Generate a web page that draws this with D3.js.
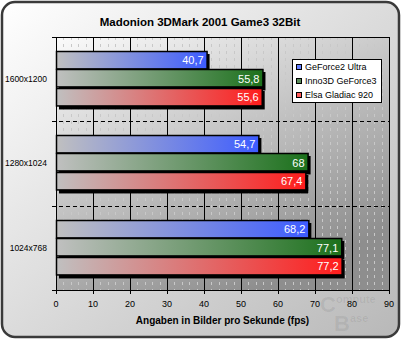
<!DOCTYPE html>
<html>
<head>
<meta charset="utf-8">
<script src="https://cdn.jsdelivr.net/npm/d3@7"></script>
<style>
    body { margin: 0; background: #fff; }
    text { font-family: "Liberation Sans", Arial, sans-serif; }
</style>
</head>
<body>
<script>

    var categories = ["1600x1200", "1280x1024", "1024x768"];
    var series = ["GeForce2 Ultra", "Inno3D GeForce3", "Elsa Gladiac 920"];
    var values = [
        [40.7, 55.8, 55.6],
        [54.7, 68, 67.4],
        [68.2, 77.1, 77.2]
    ];
    var colors = ["#3d5cff", "#1b711b", "#ff1c1c"];
    var lightColors = ["#6680ff", "#5a8c5a", "#ff5a5a"];
    var ticks = [0, 10, 20, 30, 40, 50, 60, 70, 80, 90];

    var width = 401, height = 339;
    var plotLeft = 56, plotRight = 389, plotTop = 37, plotBottom = 290;

    var svg = d3.select("body").append("svg")
        .attr("width", width)
        .attr("height", height);

    var defs = svg.append("defs");

    var panelGrad = defs.append("linearGradient").attr("id", "panel")
        .attr("x1", 0).attr("y1", 0).attr("x2", 1).attr("y2", 1);
    panelGrad.append("stop").attr("offset", "0%").attr("stop-color", "#ffffff");
    panelGrad.append("stop").attr("offset", "100%").attr("stop-color", "#b8b8b8");

    var plotGrad = defs.append("linearGradient").attr("id", "plotbg")
        .attr("x1", 0).attr("y1", 0).attr("x2", 0.6).attr("y2", 1);
    plotGrad.append("stop").attr("offset", "0%").attr("stop-color", "#fbfbfb");
    plotGrad.append("stop").attr("offset", "100%").attr("stop-color", "#8e8e8e");

    var x = d3.scaleLinear().domain([0, 90]).range([plotLeft, plotRight]);
    var y0 = d3.scaleBand().domain(categories).range([plotTop, plotBottom]).paddingInner(0).paddingOuter(0);
    var y1 = d3.scaleBand().domain(d3.range(series.length)).range([14, y0.bandwidth() - 15]);

    // bar gradients, one per series, stretched across each bar
    series.forEach(function (s, i) {
        var g = defs.append("linearGradient").attr("id", "bar" + i)
            .attr("x1", 0).attr("y1", 0).attr("x2", 1).attr("y2", 0);
        g.append("stop").attr("offset", "0%").attr("stop-color", "#c0c0c0");
        g.append("stop").attr("offset", "100%").attr("stop-color", colors[i]);
    });

    // outer panel
    svg.append("rect")
        .attr("x", 2).attr("y", 2)
        .attr("width", width - 4).attr("height", height - 4)
        .attr("rx", 13).attr("ry", 13)
        .attr("fill", "url(#panel)")
        .attr("stroke", "#3a3a3a")
        .attr("stroke-width", 2.5);

    svg.append("text")
        .attr("x", 200).attr("y", 26)
        .attr("text-anchor", "middle")
        .style("font-size", "11.5px")
        .style("font-weight", "bold")
        .text("Madonion 3DMark 2001 Game3 32Bit");

    // faint watermark, bottom right
    var wm = svg.append("g").attr("fill", "rgba(0,0,0,0.07)").style("font-weight", "bold");
    wm.append("text").attr("x", 320).attr("y", 312).style("font-size", "22px").text("C");
    wm.append("text").attr("x", 336).attr("y", 303).style("font-size", "11px").text("ompute");
    wm.append("text").attr("x", 334).attr("y", 331).style("font-size", "22px").text("B");
    wm.append("text").attr("x", 350).attr("y", 322).style("font-size", "11px").text("ase");

    // plot background
    svg.append("rect")
        .attr("x", plotLeft).attr("y", plotTop)
        .attr("width", plotRight - plotLeft).attr("height", plotBottom - plotTop)
        .attr("fill", "url(#plotbg)");

    // minor grid
    var minor = d3.range(0, 90, 2).filter(function (d) { return d % 10 !== 0; });
    svg.append("g").selectAll("line").data(minor).enter().append("line")
        .attr("x1", function (d) { return Math.round(x(d)) + 0.5; })
        .attr("x2", function (d) { return Math.round(x(d)) + 0.5; })
        .attr("y1", plotTop).attr("y2", plotBottom)
        .attr("stroke", "#c8c8c8")
        .attr("stroke-dasharray", "3,4");

    // major grid
    svg.append("g").selectAll("line").data(ticks).enter().append("line")
        .attr("x1", function (d) { return Math.round(x(d)) + 0.5; })
        .attr("x2", function (d) { return Math.round(x(d)) + 0.5; })
        .attr("y1", plotTop).attr("y2", plotBottom + 4)
        .attr("stroke", "#000");

    // group separators
    svg.append("g").selectAll("line").data(categories.slice(1)).enter().append("line")
        .attr("x1", plotLeft - 4).attr("x2", plotRight)
        .attr("y1", function (d) { return Math.round(y0(d)) + 0.5; })
        .attr("y2", function (d) { return Math.round(y0(d)) + 0.5; })
        .attr("stroke", "#000")
        .attr("stroke-dasharray", "4,3");

    svg.append("line")
        .attr("x1", plotLeft).attr("x2", plotRight)
        .attr("y1", plotTop + 0.5).attr("y2", plotTop + 0.5)
        .attr("stroke", "#000");
    svg.append("line")
        .attr("x1", plotLeft - 4).attr("x2", plotRight)
        .attr("y1", plotBottom + 0.5).attr("y2", plotBottom + 0.5)
        .attr("stroke", "#000");
    svg.append("line")
        .attr("x1", plotLeft - 4).attr("x2", plotLeft)
        .attr("y1", plotTop + 0.5).attr("y2", plotTop + 0.5)
        .attr("stroke", "#000");

    // bars
    var groups = svg.append("g").selectAll("g").data(categories).enter().append("g")
        .attr("transform", function (d) { return "translate(0," + Math.round(y0(d)) + ")"; });

    groups.each(function (cat, ci) {
        var g = d3.select(this);
        var rows = values[ci].map(function (v, si) { return { v: v, s: si }; });

        g.selectAll("rect.shadow").data(rows).enter().append("rect")
            .attr("class", "shadow")
            .attr("x", x(0) + 3)
            .attr("y", function (d) { return Math.round(y1(d.s)) + 3; })
            .attr("width", function (d) { return x(d.v) - x(0); })
            .attr("height", y1.bandwidth())
            .attr("fill", "#000");

        g.selectAll("rect.bar").data(rows).enter().append("rect")
            .attr("class", "bar")
            .attr("x", x(0) + 0.5)
            .attr("y", function (d) { return Math.round(y1(d.s)) + 0.5; })
            .attr("width", function (d) { return x(d.v) - x(0); })
            .attr("height", y1.bandwidth() - 1)
            .attr("fill", function (d) { return "url(#bar" + d.s + ")"; })
            .attr("stroke", "#000")
            .attr("stroke-width", 1.5);

        g.selectAll("text.val").data(rows).enter().append("text")
            .attr("class", "val")
            .attr("x", function (d) { return x(d.v) - 3; })
            .attr("y", function (d) { return y1(d.s) + y1.bandwidth() / 2 + 4; })
            .attr("text-anchor", "end")
            .attr("fill", "#fff")
            .style("font-size", "11px")
            .text(function (d) { return String(d.v).replace(".", ","); });

        g.append("text")
            .attr("x", plotLeft - 9)
            .attr("y", y0.bandwidth() / 2 + 3)
            .attr("text-anchor", "end")
            .style("font-size", "8.5px")
            .text(cat);
    });

    // tick labels
    svg.append("g").selectAll("text").data(ticks).enter().append("text")
        .attr("x", function (d) { return x(d); })
        .attr("y", 307)
        .attr("text-anchor", "middle")
        .style("font-size", "9px")
        .text(function (d) { return d; });

    svg.append("text")
        .attr("x", (plotLeft + plotRight) / 2)
        .attr("y", 324)
        .attr("text-anchor", "middle")
        .style("font-size", "10px")
        .style("font-weight", "bold")
        .text("Angaben in Bilder pro Sekunde (fps)");

    // legend
    var lg = svg.append("g").attr("transform", "translate(292,59)");
    lg.append("rect")
        .attr("x", 0.5).attr("y", 0.5)
        .attr("width", 89).attr("height", 43)
        .attr("fill", "#fff")
        .attr("stroke", "#000");
    series.forEach(function (s, i) {
        lg.append("rect")
            .attr("x", 4.5).attr("y", 5.5 + i * 14)
            .attr("width", 5).attr("height", 5)
            .attr("fill", lightColors[i])
            .attr("stroke", "#000");
        lg.append("text")
            .attr("x", 13).attr("y", 11 + i * 14)
            .style("font-size", "9px")
            .text(s);
    });

</script>
</body>
</html>
